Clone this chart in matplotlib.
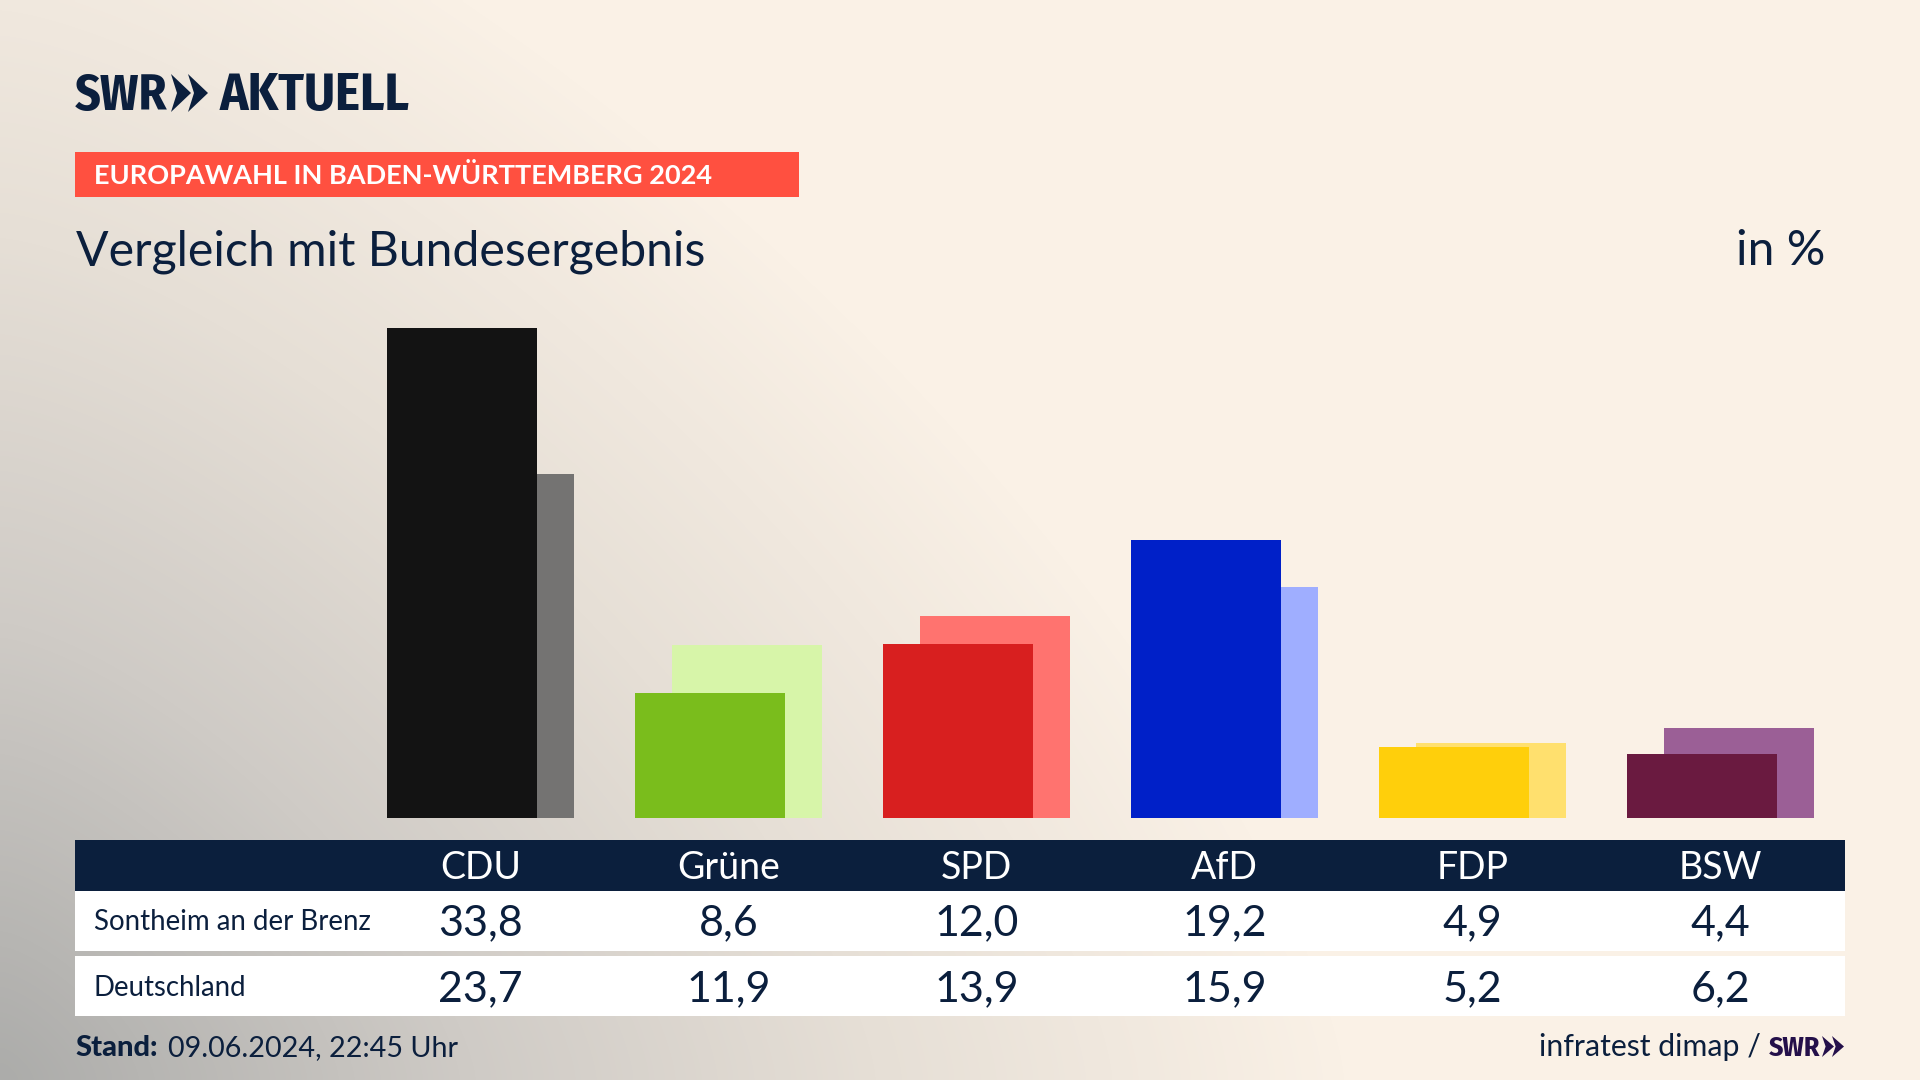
import numpy as np
import matplotlib
matplotlib.use("Agg")
import matplotlib.pyplot as plt
from matplotlib.patches import Rectangle, Polygon
from matplotlib.colors import LinearSegmentedColormap

parties = ["CDU", "Grüne", "SPD", "AfD", "FDP", "BSW"]
local_values = [33.8, 8.6, 12.0, 19.2, 4.9, 4.4]
national_values = [23.7, 11.9, 13.9, 15.9, 5.2, 6.2]
local_label = "Sontheim an der Brenz"
national_label = "Deutschland"
local_colors = ["#131313", "#7ABD1C", "#D81F1F", "#0020C8", "#FFCF0B", "#6A1A40"]
national_colors = ["#747372", "#D7F5A9", "#FF736F", "#9FAEFF", "#FFE06E", "#9B5F96"]

NAVY = "#0B1F3D"
FONT = "Lato"
NARROW = ["Fira Sans Condensed", "Lato"]
W, H = 1920, 1080
fig = plt.figure(figsize=(19.2, 10.8), dpi=100)


def px_axes(left, top, right, bottom):
    return fig.add_axes([left / W, 1 - bottom / H, (right - left) / W, (bottom - top) / H])


# background gradient
bg = fig.add_axes([0, 0, 1, 1])
yy, xx = np.mgrid[0:H:270j, 0:W:480j]
p = 1.4
t = np.clip(((xx / 1350) ** p + ((H - yy) / 1300) ** p) ** (1 / p), 0, 1)
cmap = LinearSegmentedColormap.from_list(
    "bg", [(0, "#ACACAA"), (0.35, "#CFCBC6"), (0.65, "#E6DFD6"), (1, "#FAF1E6")]
)
bg.imshow(t, cmap=cmap, vmin=0, vmax=1, extent=(0, W, H, 0), aspect="auto", interpolation="bilinear")
bg.set_xlim(0, W)
bg.set_ylim(H, 0)
bg.axis("off")

# table and text layer in pixels
bg.add_patch(Rectangle((75, 840), 1770, 51, color=NAVY, lw=0))
bg.add_patch(Rectangle((75, 891), 1770, 60, color="white", lw=0))
bg.add_patch(Rectangle((75, 956), 1770, 60, color="white", lw=0))
bg.add_patch(Rectangle((75, 152), 724, 45, color="#FF5040", lw=0))


def txt(x, y, s, size, color=NAVY, ha="left", weight="normal", family=FONT):
    bg.text(x, y, s, fontsize=size, color=color, ha=ha, va="baseline", weight=weight, family=family)


def chevrons(x, top, bottom, w, gap, color):
    mid = (top + bottom) / 2
    for k in range(2):
        x0 = x + k * gap
        bg.add_patch(Polygon(
            [(x0, top), (x0 + w, mid), (x0, bottom), (x0 + w * 0.3, mid)],
            closed=True, color=color, lw=0))


txt(75, 110, "SWR", 36, weight="bold", family=NARROW)
chevrons(171, 74, 112, 20, 17, NAVY)
txt(220, 110, "AKTUELL", 38, weight="bold", family=NARROW)
txt(94, 184, "EUROPAWAHL IN BADEN-WÜRTTEMBERG 2024", 19.5, color="white", weight="bold")
txt(76, 265, "Vergleich mit Bundesergebnis", 34.7)
txt(1825, 265, "in %", 34.7, ha="right")

spacing = 248
first = 480.5
for i, party in enumerate(parties):
    cx = first + spacing * i
    txt(cx, 879, party, 27, color="white", ha="center")
    txt(cx, 935, f"{local_values[i]:.1f}".replace(".", ","), 31, ha="center")
    txt(cx, 1001, f"{national_values[i]:.1f}".replace(".", ","), 31, ha="center")
txt(94, 930, local_label, 19.9)
txt(94, 996, national_label, 19.9)
txt(75, 1056, "Stand:", 21, weight="black")
txt(168, 1056, "09.06.2024, 22:45 Uhr", 20.7)
txt(1761, 1056, "infratest dimap /", 21.8, ha="right")
txt(1769, 1056, "SWR", 20, color="#24104A", weight="bold", family=NARROW)
chevrons(1822, 1036, 1057, 12, 10, "#24104A")

# bars
px_per_unit = 14.5
ax = px_axes(75, 250, 1845, 818)
ax.patch.set_alpha(0)
x = np.arange(len(parties))
ax.set_xlim((75 - first) / spacing, (1845 - first) / spacing)
ax.set_ylim(0, (818 - 250) / px_per_unit)
bar_w = 150 / spacing
off = 18.5 / spacing
ax.bar(x + off, national_values, width=bar_w, color=national_colors, lw=0)
ax.bar(x - off, local_values, width=bar_w, color=local_colors, lw=0)
ax.axis("off")

fig.savefig("out.png", dpi=100)
